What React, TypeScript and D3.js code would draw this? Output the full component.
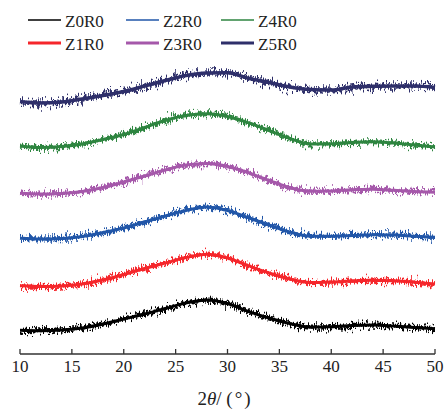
import React from "react";
import * as d3 from "d3";

const angles = [10, 12, 14, 16, 18, 20, 22, 24, 26, 28, 30, 32, 34, 36, 38, 40, 42, 44, 46, 48, 50];

const seriesNames = ["Z0R0", "Z1R0", "Z2R0", "Z3R0", "Z4R0", "Z5R0"];
const seriesColors = ["#000000", "#f5262b", "#2156a8", "#a558aa", "#2e8540", "#2e2f6a"];

// stacked intensities (a.u., already offset)
const z0r0 = [22.7, 22.3, 23, 25, 29, 34, 39, 44.5, 50, 53, 49.5, 41.7, 35, 29.5, 26, 26.2, 27.5, 28, 27, 25.5, 24.3];
const z1r0 = [67.3, 66.5, 67, 69, 73, 78.5, 84.5, 90, 95.5, 98.7, 95, 87.3, 80, 74, 70.5, 71, 72, 72.7, 72.2, 70.8, 69];
const z2r0 = [114.7, 114, 114.5, 116.5, 120.5, 125, 131, 137, 142.5, 146, 142.5, 135.3, 128, 121, 116.7, 116.7, 117.5, 118.3, 118, 116.8, 115.7];
const z3r0 = [159.7, 159, 159.5, 161.5, 165.5, 171, 177, 183, 188, 189.5, 186.5, 180.3, 172.5, 165.5, 161.7, 162, 163.3, 163.7, 162.7, 161.5, 160.7];
const z4r0 = [207, 205.5, 206.5, 209, 213.5, 218.5, 225.5, 232.5, 237.5, 239.2, 236.5, 230.3, 222.5, 214.5, 209, 209.2, 210.5, 211.3, 210, 208, 206];
const z5r0 = [251.5, 250, 251, 254, 257.5, 261.5, 267, 272.5, 277.5, 280, 280.2, 274.7, 270.5, 266, 263.5, 263, 266, 266.7, 267, 267, 265.5];

const seriesValues = [z0r0, z1r0, z2r0, z3r0, z4r0, z5r0];
const xTicks = [10, 15, 20, 25, 30, 35, 40, 45, 50];

const W = 445;
const H = 414;
const FONT = "'Liberation Serif', 'Times New Roman', Tinos, 'DejaVu Serif', serif";

export default function App() {
  const x = d3.scaleLinear().domain([10, 50]).range([20, 435]);
  const y = d3.scaleLinear().domain([0, 300]).range([353, 53]);
  const line = d3
    .line<number>()
    .x((_, i) => x(angles[i]))
    .y((d) => y(d))
    .curve(d3.curveMonotoneX);

  const axisY = 354;

  const legendCols = [
    { lx: 28, tx: 65 },
    { lx: 126, tx: 163 },
    { lx: 221, tx: 258 },
  ];
  const legendRows = [20, 43];
  const legendWidths = [1.5, 3, 1.5, 3, 1.5, 3];

  const makeFilter = (id: string, seed: number, scale: number) => (
    <filter
      id={id}
      filterUnits="userSpaceOnUse"
      x={0}
      y={0}
      width={W}
      height={H}
      colorInterpolationFilters="sRGB"
    >
      <feTurbulence type="fractalNoise" baseFrequency="0.8 0.05" numOctaves={2} seed={seed} result="t" />
      <feColorMatrix
        in="t"
        type="matrix"
        values="0 0 0 0 0.5  0 1 0 0 0  0 0 0 0 0  0 0 0 0 1"
        result="n"
      />
      <feDisplacementMap in="SourceGraphic" in2="n" scale={scale} xChannelSelector="R" yChannelSelector="G" />
    </filter>
  );

  return (
    <svg
      width={W}
      height={H}
      style={{ position: "absolute", left: 0, top: 0, display: "block", background: "#fff", fontFamily: FONT }}
    >
      <defs>
        {makeFilter("noiseA", 3, 14)}
        {makeFilter("noiseB", 11, 20)}
        {makeFilter("noiseC", 7, 19)}
        {makeFilter("noiseD", 19, 26)}
      </defs>

      {seriesValues.map((vals, i) => {
        const d = line(vals) || "";
        const big = i === 5;
        return (
          <g key={seriesNames[i]} stroke={seriesColors[i]} fill="none">
            <path d={d} strokeWidth={3} filter={big ? "url(#noiseC)" : "url(#noiseA)"} />
            <path d={d} strokeWidth={1.6} filter={big ? "url(#noiseD)" : "url(#noiseB)"} />
            <path d={d} strokeWidth={big ? 3.6 : 3} />
          </g>
        );
      })}

      {/* x axis */}
      <line x1={x(10)} x2={x(50)} y1={axisY} y2={axisY} stroke="#333" strokeWidth={1.3} />
      {xTicks.map((t) => (
        <g key={t}>
          <line x1={x(t)} x2={x(t)} y1={axisY} y2={axisY - 5} stroke="#333" strokeWidth={1.3} />
          <text x={x(t)} y={372} textAnchor="middle" fontSize={17} fill="#222">
            {t}
          </text>
        </g>
      ))}
      <text x={224} y={405} textAnchor="middle" fontSize={19} fill="#222">
        <tspan>2</tspan>
        <tspan fontStyle="italic">θ</tspan>
        <tspan>/ (</tspan>
        <tspan dx={2}>°</tspan>
        <tspan dx={2}>)</tspan>
      </text>

      {/* legend */}
      {seriesNames.map((name, i) => {
        const col = legendCols[Math.floor(i / 2)];
        const ry = legendRows[i % 2];
        return (
          <g key={name}>
            <line
              x1={col.lx}
              x2={col.lx + 33}
              y1={ry}
              y2={ry}
              stroke={seriesColors[i]}
              strokeWidth={legendWidths[i]}
            />
            <text x={col.tx} y={ry + 6.5} fontSize={17} fill="#222">
              {name}
            </text>
          </g>
        );
      })}
    </svg>
  );
}
